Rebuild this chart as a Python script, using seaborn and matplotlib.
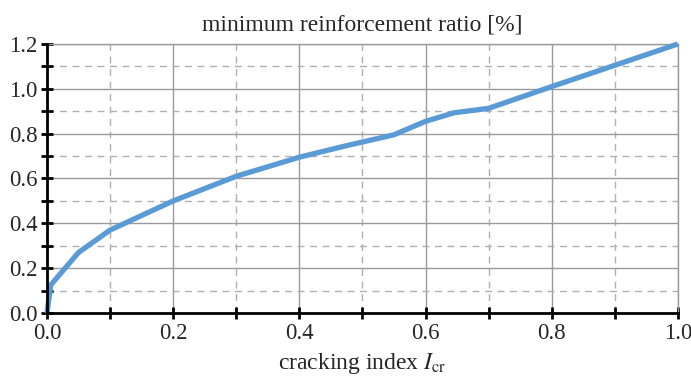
import numpy as np
import pandas as pd
import matplotlib
matplotlib.use("Agg")
import matplotlib.pyplot as plt
import seaborn as sns
from matplotlib.ticker import MultipleLocator, FormatStrFormatter

# data
cracking_index = [0.0, 0.006, 0.05, 0.10, 0.20, 0.30, 0.40, 0.48, 0.55, 0.60, 0.645, 0.70, 0.80, 0.90, 1.00]
min_reinf_ratio = [0.0, 0.125, 0.27, 0.37, 0.50, 0.61, 0.695, 0.75, 0.795, 0.855, 0.893, 0.913, 1.01, 1.105, 1.20]
x_ticks = [0.0, 0.2, 0.4, 0.6, 0.8, 1.0]
y_ticks = [0.0, 0.2, 0.4, 0.6, 0.8, 1.0, 1.2]

df = pd.DataFrame({"x": cracking_index, "y": min_reinf_ratio})

sns.set_theme(style="white")
plt.rcParams["font.family"] = ["Liberation Serif", "DejaVu Serif"]
plt.rcParams["mathtext.fontset"] = "stix"

fig = plt.figure(figsize=(6.91, 3.81), dpi=100)
ax = fig.add_axes([0.068, 0.1785, 0.913, 0.706])

sns.lineplot(data=df, x="x", y="y", ax=ax, color="#5b9bd5", linewidth=3.8,
             solid_capstyle="butt", zorder=3, clip_on=False)

ax.set_xlim(0, 1.0)
ax.set_ylim(0, 1.2)
ax.xaxis.set_major_locator(MultipleLocator(0.2))
ax.xaxis.set_minor_locator(MultipleLocator(0.1))
ax.yaxis.set_major_locator(MultipleLocator(0.2))
ax.yaxis.set_minor_locator(MultipleLocator(0.1))
ax.set_xticks(x_ticks)
ax.set_yticks(y_ticks)
ax.xaxis.set_major_formatter(FormatStrFormatter("%.1f"))
ax.yaxis.set_major_formatter(FormatStrFormatter("%.1f"))

ax.grid(which="major", color="#9a9a9a", linestyle="-", linewidth=1.0)
ax.grid(which="minor", color="#b0b0b0", linestyle=(0, (5, 4)), linewidth=1.0)
ax.set_axisbelow(True)

for side in ["top", "right"]:
    ax.spines[side].set_color("#9a9a9a")
    ax.spines[side].set_linewidth(1.0)
for side in ["left", "bottom"]:
    ax.spines[side].set_color("black")
    ax.spines[side].set_linewidth(2.0)
    ax.spines[side].set_zorder(4)

ax.tick_params(which="both", direction="inout", length=8, width=2, color="black",
               bottom=True, left=True, top=False, right=False)
ax.tick_params(which="major", labelsize=16.5, pad=3)

ax.set_xlabel(r"cracking index $I_\mathrm{cr}$", fontsize=17, labelpad=5)
ax.set_ylabel("")
ax.set_title("minimum reinforcement ratio [%]", fontsize=17, pad=10)

fig.savefig("out.png", dpi=100)
